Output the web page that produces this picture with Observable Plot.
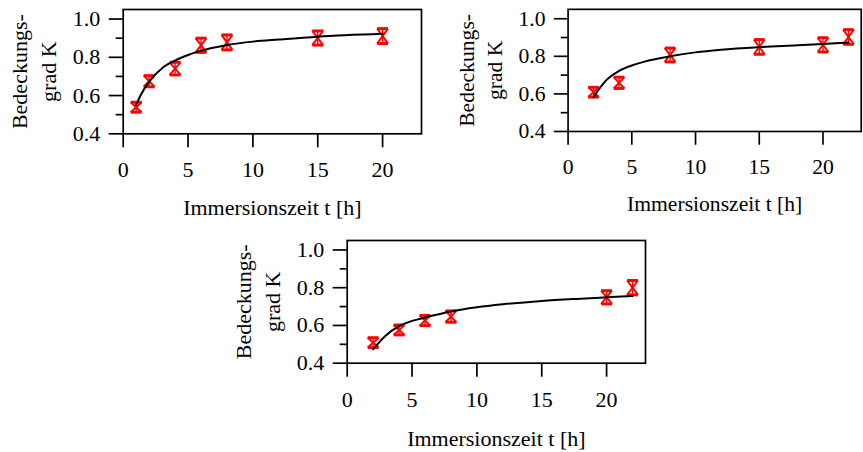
<!DOCTYPE html>
<html>
<head>
<meta charset="utf-8">
<script src="https://cdn.jsdelivr.net/npm/d3@7"></script>
<script src="https://cdn.jsdelivr.net/npm/@observablehq/plot@0.6"></script>
<style>
  html, body { margin: 0; padding: 0; background: #fff; }
  #chart { position: relative; width: 863px; height: 452px; overflow: hidden; background: #fff; }
  #chart > div { position: absolute; }
</style>
</head>
<body>
<div id="chart"></div>
<script>
// Axis ticks and labels
const xTicks = [0, 5, 10, 15, 20];
const yMajor = [0.4, 0.6, 0.8, 1.0];
const yMinor = [0.5, 0.7, 0.9];
const xLabel = "Immersionszeit t [h]";
const yLabel1 = "Bedeckungs-";
const yLabel2 = "grad K";

// Series A: measured coverage with error, and fitted curve
const tA = [1, 2, 4, 6, 8, 15, 20];
const kA = [0.539, 0.675, 0.741, 0.863, 0.878, 0.901, 0.911];
const eA = [0.026, 0.029, 0.033, 0.037, 0.039, 0.037, 0.039];
const fitTA = [1, 1.33, 2, 3, 4, 5, 6, 8, 10, 12, 15, 20];
const fitKA = [0.551, 0.600, 0.673, 0.743, 0.783, 0.812, 0.835, 0.864, 0.882, 0.893, 0.908, 0.923];

// Series B
const tB = [2, 4, 8, 15, 20, 22];
const kB = [0.609, 0.659, 0.807, 0.850, 0.861, 0.903];
const eB = [0.026, 0.030, 0.037, 0.039, 0.038, 0.039];
const fitTB = [2, 3, 4, 5, 6, 8, 10, 12, 15, 18, 20, 22];
const fitKB = [0.583, 0.673, 0.722, 0.751, 0.772, 0.800, 0.821, 0.835, 0.849, 0.859, 0.866, 0.873];

// Series C
const tC = [2, 4, 6, 8, 20, 22];
const kC = [0.509, 0.576, 0.626, 0.647, 0.749, 0.800];
const eC = [0.026, 0.026, 0.027, 0.030, 0.035, 0.038];
const fitTC = [2, 3, 4, 5, 6, 8, 10, 12, 15, 18, 20, 22];
const fitKC = [0.474, 0.548, 0.596, 0.624, 0.642, 0.674, 0.696, 0.712, 0.730, 0.742, 0.749, 0.756];

const FONT = "Liberation Serif, Times New Roman, serif";
const CAP = 0.42; // half width of the error-bar caps, in hours

function panel({t, k, e, fitT, fitK, innerH, labelDy}) {
  const pts = t.map((ti, i) => ({t: ti, k: k[i], e: e[i]}));
  const fit = fitT.map((ti, i) => ({t: ti, k: fitK[i]}));
  const mt = 9, ml = 122.7, innerW = 298.3, mr = 2;
  const height = Math.round(mt + innerH + 90);
  const red = {stroke: "#ff0000", strokeWidth: 2};
  return Plot.plot({
    width: ml + innerW + mr,
    height,
    marginTop: mt,
    marginLeft: ml,
    marginRight: mr,
    marginBottom: height - mt - innerH,
    style: {fontFamily: FONT, fontSize: "22px", color: "#000", background: "transparent", overflow: "visible"},
    x: {domain: [0, 23], axis: null},
    y: {domain: [0.4, 1.05], axis: null},
    marks: [
      Plot.frame({stroke: "#000", strokeWidth: 1.7}),
      Plot.axisX(xTicks, {tickSize: 14, tickPadding: 14, fontSize: 22, strokeWidth: 1.7, label: null, tickFormat: d => String(d)}),
      Plot.axisY(yMajor, {tickSize: 14, tickPadding: 9, fontSize: 22, strokeWidth: 1.7, label: null, tickFormat: ".1f"}),
      Plot.axisY(yMinor, {tickSize: 7, strokeWidth: 1.7, text: null, label: null}),
      // error bars drawn as hourglass: caps, diagonals and stem
      Plot.ruleX(pts, {x: "t", y1: d => d.k - d.e, y2: d => d.k + d.e, ...red, strokeWidth: 1.4}),
      Plot.link(pts, {x1: d => d.t - CAP, x2: d => d.t + CAP, y1: d => d.k + d.e, y2: d => d.k + d.e, ...red, strokeWidth: 3}),
      Plot.link(pts, {x1: d => d.t - CAP, x2: d => d.t + CAP, y1: d => d.k - d.e, y2: d => d.k - d.e, ...red, strokeWidth: 3}),
      Plot.link(pts, {x1: d => d.t - CAP, x2: d => d.t + CAP, y1: d => d.k + d.e, y2: d => d.k - d.e, ...red}),
      Plot.link(pts, {x1: d => d.t + CAP, x2: d => d.t - CAP, y1: d => d.k + d.e, y2: d => d.k - d.e, ...red}),
      Plot.line(fit, {x: "t", y: "k", curve: "monotone-x", stroke: "#000", strokeWidth: 2}),
      Plot.text([xLabel], {frameAnchor: "bottom", lineAnchor: "bottom", dy: labelDy, fontSize: 22, fill: "#000"}),
      Plot.text([yLabel1], {frameAnchor: "left", textAnchor: "middle", lineAnchor: "middle", rotate: -90, dx: -103, fontSize: 22, fill: "#000"}),
      Plot.text([yLabel2], {frameAnchor: "left", textAnchor: "middle", lineAnchor: "middle", rotate: -90, dx: -74, fontSize: 22, fill: "#000"})
    ]
  });
}

const chart = document.getElementById("chart");
function place(node, left, top) {
  const wrap = document.createElement("div");
  wrap.style.left = left + "px";
  wrap.style.top = top + "px";
  wrap.appendChild(node);
  chart.appendChild(wrap);
}

place(panel({t: tA, k: kA, e: eA, fitT: fitTA, fitK: fitKA, innerH: 124.3, labelDy: 81}), 0, 0);
place(panel({t: tB, k: kB, e: eB, fitT: fitTB, fitK: fitKB, innerH: 124.3, labelDy: 81}), 447.3, 0);
place(panel({t: tC, k: kC, e: eC, fitT: fitTC, fitK: fitKC, innerH: 122.7, labelDy: 83}), 224, 231);
</script>
</body>
</html>
